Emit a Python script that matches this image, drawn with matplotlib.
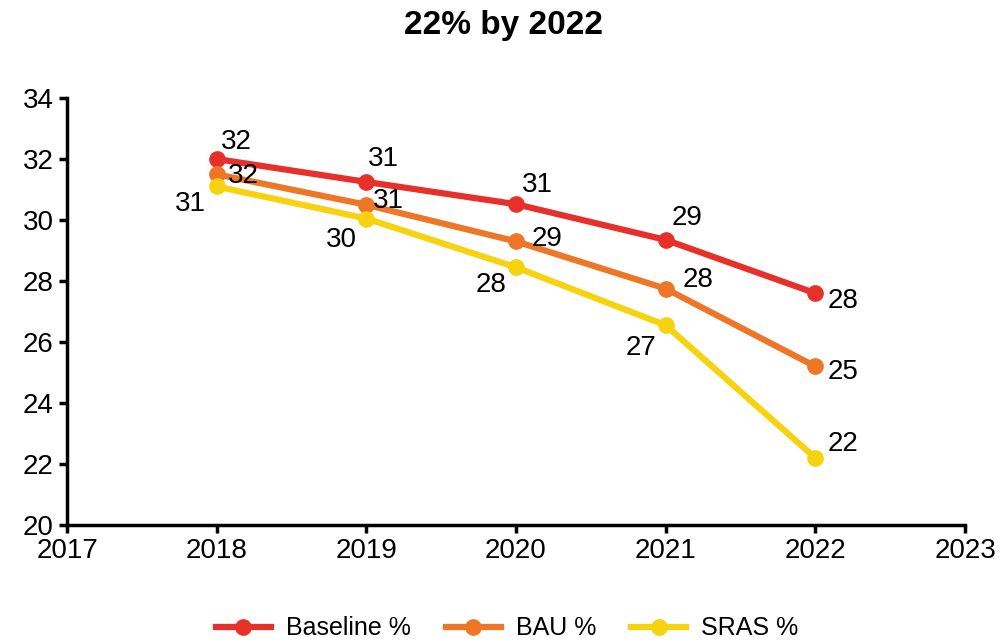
import matplotlib.pyplot as plt

plt.rcParams['font.family'] = ['Liberation Sans', 'DejaVu Sans']

years = [2018, 2019, 2020, 2021, 2022]
baseline = [32.0, 31.25, 30.52, 29.35, 27.6]
bau = [31.5, 30.5, 29.3, 27.75, 25.2]
sras = [31.1, 30.05, 28.45, 26.55, 22.2]

series = [
    ("Baseline %", baseline, "#E8302A", [(20, 17), (17, 23), (21, 19), (21, 22), (28, -8)]),
    ("BAU %", bau, "#EE7627", [(27, -2), (22, 4), (31, 2), (32, 9), (28, -6)]),
    ("SRAS %", sras, "#F7D20E", [(-26, -18), (-25, -21), (-25, -18), (-25, -23), (28, 14)]),
]

fig = plt.figure(figsize=(10, 6.43), dpi=100)
ax = fig.add_axes([0.067, 0.1835, 0.898, 0.664])

for name, vals, col, offs in series:
    ax.plot(years, vals, color=col, lw=4.5, marker='o', ms=11, label=name, zorder=3)
    for x, y, (dx, dy) in zip(years, vals, offs):
        # round half up, like the source labels
        ax.annotate(f"{int(y + 0.5)}", (x, y), xytext=(dx, dy), textcoords='offset pixels',
                    ha='center', va='center', fontsize=20)

ax.set_xlim(2017, 2023)
ax.set_ylim(20, 34)
ax.set_xticks(range(2017, 2024))
ax.set_yticks(range(20, 35, 2))
ax.tick_params(labelsize=20, width=2.5, length=6, direction='out')
for s in ['top', 'right']:
    ax.spines[s].set_visible(False)
for s in ['left', 'bottom']:
    ax.spines[s].set_linewidth(2.5)

fig.text(0.503, 0.961, "22% by 2022", fontsize=24, fontweight='bold', ha='center', va='center')
ax.legend(loc='center', bbox_to_anchor=(0.49, -0.242), ncol=3, frameon=False,
          fontsize=18, handlelength=2.2, columnspacing=1.4, handletextpad=0.6)

fig.savefig("out.png")
